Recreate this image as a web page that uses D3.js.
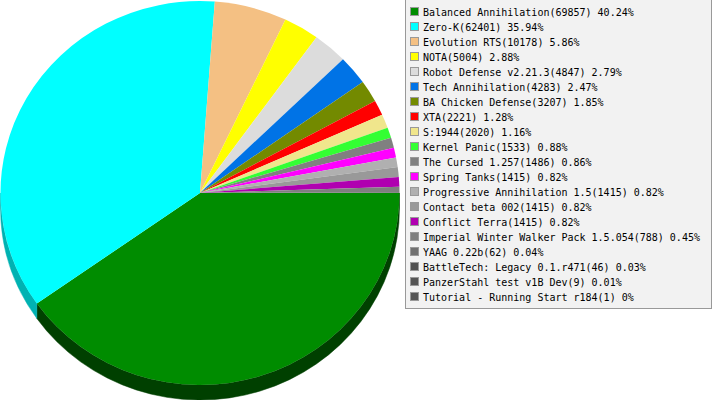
<!DOCTYPE html>
<html>
<head>
<meta charset="utf-8">
<style>
html, body { margin:0; padding:0; background:#fff; }
svg { display:block; }
</style>
</head>
<body>
<div id="chart"></div>
<script src="https://d3js.org/d3.v7.min.js"></script>
<script>
// mods and number of games played
const names = ["Balanced Annihilation", "Zero-K", "Evolution RTS", "NOTA", "Robot Defense v2.21.3",
  "Tech Annihilation", "BA Chicken Defense", "XTA", "S:1944", "Kernel Panic", "The Cursed 1.257",
  "Spring Tanks", "Progressive Annihilation 1.5", "Contact beta 002", "Conflict Terra",
  "Imperial Winter Walker Pack 1.5.054", "YAAG 0.22b", "BattleTech: Legacy 0.1.r471",
  "PanzerStahl test v1B Dev", "Tutorial - Running Start r184"];
const values = [69857, 62401, 10178, 5004, 4847, 4283, 3207, 2221, 2020, 1533, 1486,
  1415, 1415, 1415, 1415, 788, 62, 46, 9, 1];
const colors = ["#008c00", "#00ffff", "#f4c083", "#ffff00", "#dcdcdc", "#0073e6", "#738a00",
  "#ff0000", "#f0e68c", "#33ff33", "#808080", "#ff00ff", "#b0b0b0", "#999999", "#b000b0",
  "#7f7f7f", "#707070", "#505050", "#555555", "#555555"];
const sideColors = ["#004000", "#00b2b2"];

const W = 713, H = 400;
const cx = 200, cy = 193, rx = 199.5, ry = 192, depth = 15;

const svg = d3.select("#chart").append("svg")
  .attr("width", W).attr("height", H);

const total = d3.sum(values);
const data = names.map((n, i) => ({name: n, val: values[i], color: colors[i], side: sideColors[i] || d3.rgb(colors[i]).darker(1.2)}));

// start at 3 o'clock, go clockwise
const pie = d3.pie().value(d => d.val).sort(null)
  .startAngle(Math.PI / 2).endAngle(Math.PI * 2.5);
const arcs = pie(data);

const pt = t => [cx + rx * Math.cos(t), cy + ry * Math.sin(t)];

// side walls (front half only)
const gSide = svg.append("g");
arcs.forEach(a => {
  let t0 = Math.max(a.startAngle - Math.PI / 2, 0);
  let t1 = Math.min(a.endAngle - Math.PI / 2, Math.PI);
  if (t1 <= t0) return;
  const p0 = pt(t0), p1 = pt(t1);
  const d = `M${p0[0]},${p0[1]} A${rx},${ry} 0 0 1 ${p1[0]},${p1[1]}` +
    ` L${p1[0]},${p1[1] + depth} A${rx},${ry} 0 0 0 ${p0[0]},${p0[1] + depth} Z`;
  gSide.append("path").attr("d", d).attr("fill", a.data.side)
    .attr("stroke", a.data.side).attr("stroke-width", 0.5);
});

// top faces
const arc = d3.arc().innerRadius(0).outerRadius(rx);
svg.append("g")
  .attr("transform", `translate(${cx},${cy}) scale(1,${ry / rx})`)
  .selectAll("path")
  .data(arcs)
  .join("path")
  .attr("d", arc)
  .attr("fill", d => d.data.color);

// legend
const legend = svg.append("g");
legend.append("rect")
  .attr("x", 405.5).attr("y", -1.5)
  .attr("width", 306).attr("height", 310)
  .attr("fill", "#f2f2f2").attr("stroke", "#999").attr("stroke-width", 1);

const row = legend.selectAll("g.row")
  .data(data)
  .join("g")
  .attr("class", "row")
  .attr("transform", (d, i) => `translate(0,${12 + i * 15})`);

row.append("rect")
  .attr("x", 410.5).attr("y", -4.5)
  .attr("width", 8).attr("height", 8)
  .attr("fill", d => d.color)
  .attr("stroke", "#999").attr("stroke-width", 1);

row.append("text")
  .attr("x", 423).attr("y", 0).attr("dy", "0.36em")
  .attr("font-family", "DejaVu Sans Mono, monospace")
  .attr("font-size", 10)
  .attr("fill", "#000")
  .text(d => `${d.name}(${d.val}) ${+(d.val / total * 100).toFixed(2)}%`);
</script>
</body>
</html>
